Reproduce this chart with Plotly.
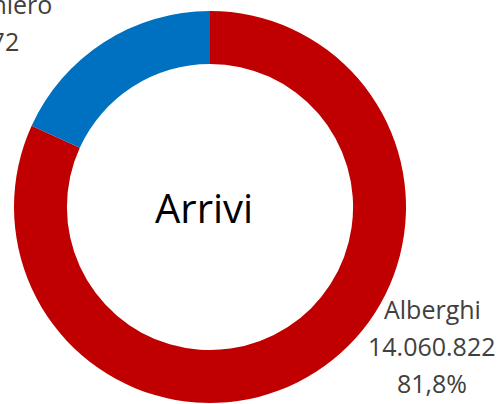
import plotly.graph_objects as go

labels = ["Alberghi", "Extralberghiero"]
values = [14060822, 3127872]
colors = ["#C00000", "#0070C0"]
center_text = "Arrivi"

W, H = 504, 404


def fmt_int(v):
    return f"{v:,}".replace(",", ".")


def fmt_pct(v, tot):
    return f"{v / tot * 100:.1f}%".replace(".", ",")


total = sum(values)

fig = go.Figure(
    go.Pie(
        labels=labels,
        values=values,
        hole=0.73,
        sort=False,
        direction="clockwise",
        rotation=0,
        marker=dict(colors=colors, line=dict(width=0)),
        textinfo="none",
        hoverinfo="label+value+percent",
        domain=dict(x=[14 / W, 406 / W], y=[1 - 403 / H, 1 - 11 / H]),
        showlegend=False,
    )
)

# label blocks: centre x and baseline of the first line, in pixels
label_pos = [(432, 318), (-38, 13)]
line_gap = 37
font = "Open Sans, Noto Sans, sans-serif"
for lab, val, (px_, base) in zip(labels, values, label_pos):
    lines = [lab, fmt_int(val), fmt_pct(val, total)]
    for i, t in enumerate(lines):
        yc = base + i * line_gap - 9
        fig.add_annotation(
            x=px_ / W,
            y=1 - yc / H,
            xref="paper",
            yref="paper",
            text=t,
            showarrow=False,
            xanchor="center",
            yanchor="middle",
            font=dict(family=font, size=25, color="#404040"),
        )

fig.add_annotation(
    x=204 / W,
    y=1 - 207 / H,
    xref="paper",
    yref="paper",
    text=center_text,
    showarrow=False,
    xanchor="center",
    yanchor="middle",
    font=dict(family=font, size=40, color="#000000"),
)

fig.update_layout(
    width=W,
    height=H,
    margin=dict(l=0, r=0, t=0, b=0),
    paper_bgcolor="white",
    plot_bgcolor="white",
)

fig.write_html(
    "out.html",
    config={"displayModeBar": False},
    post_script="document.body.style.margin='0px';",
)
